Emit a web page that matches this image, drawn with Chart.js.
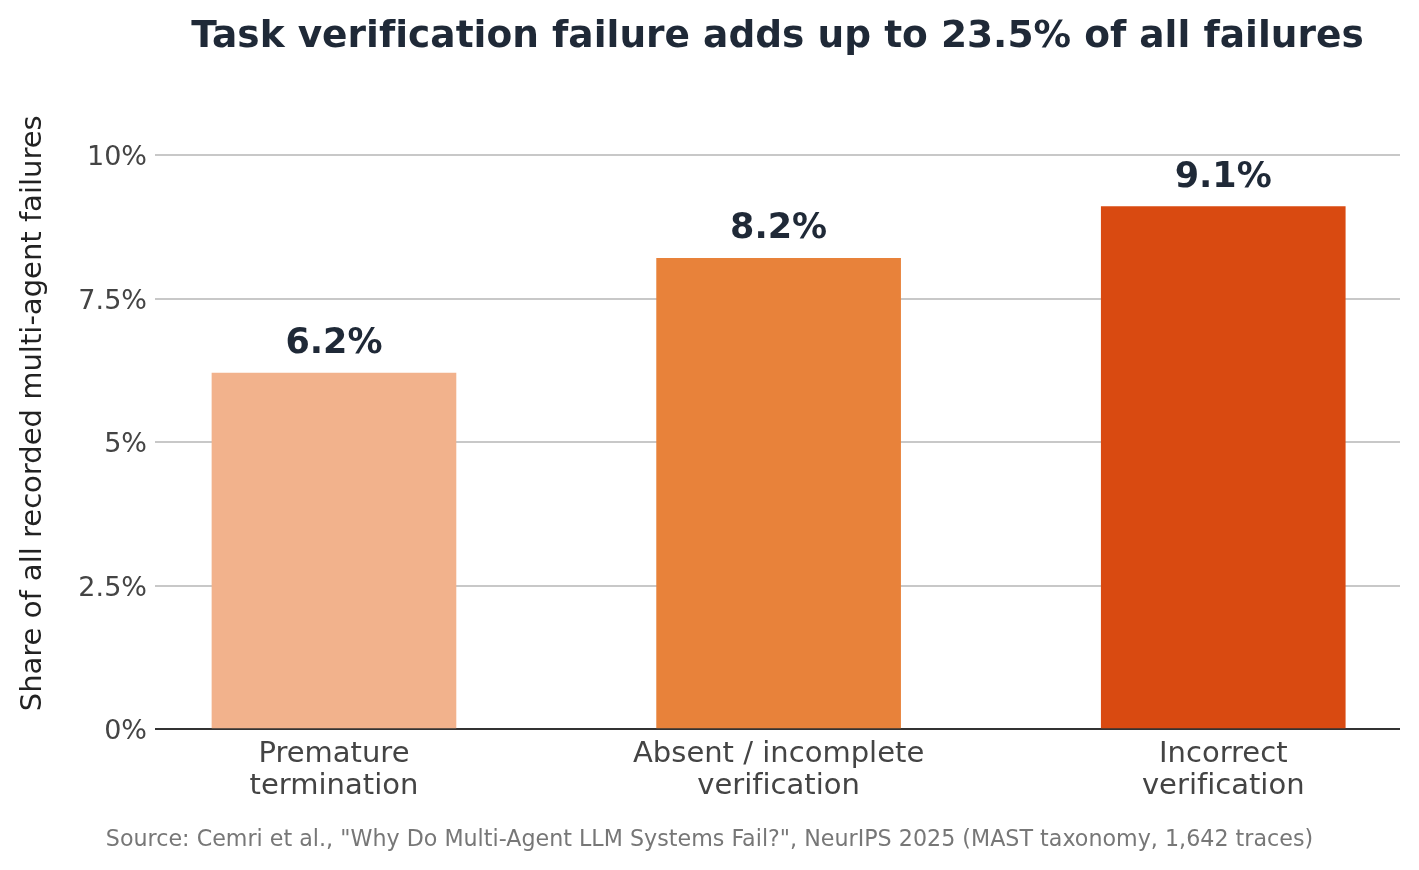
<!DOCTYPE html>
<html>
<head>
<meta charset="utf-8">
<script src="https://cdn.jsdelivr.net/npm/chart.js@4.4.1/dist/chart.umd.min.js"></script>
<style>
  html, body { margin: 0; padding: 0; background: #ffffff; }
  #wrap { width: 1419px; height: 870px; position: relative; }
  canvas { font-variant-ligatures: none; }
</style>
</head>
<body>
<div id="wrap"><canvas id="c" width="1419" height="870"></canvas></div>
<script>
// ---- Data ----
const categories = [["Premature", "termination"], ["Absent / incomplete", "verification"], ["Incorrect", "verification"]];
const values = [6.2, 8.2, 9.1];
const barColors = ["#F2B28C", "#E8823A", "#D94A11"];
const yTickValues = [0, 2.5, 5, 7.5, 10];
const yTickLabels = ["0%", "2.5%", "5%", "7.5%", "10%"];
const titleText = "Task verification failure adds up to 23.5% of all failures";
const yAxisTitle = "Share of all recorded multi-agent failures";
const sourceText = 'Source: Cemri et al., "Why Do Multi-Agent LLM Systems Fail?", NeurIPS 2025 (MAST taxonomy, 1,642 traces)';

const FONT = "'DejaVu Sans', sans-serif";

const noLig = {
  id: 'noLig',
  beforeDraw(chart) { try { chart.ctx.letterSpacing = '0.01px'; } catch (e) {} }
};

const overlay = {
  id: 'overlay',
  afterDatasetsDraw(chart) {
    const ctx = chart.ctx;
    const meta = chart.getDatasetMeta(0);
    ctx.save();
    try { ctx.letterSpacing = '0.01px'; } catch (e) {}
    ctx.fillStyle = '#1f2937';
    ctx.font = "bold 35px " + FONT;
    ctx.textAlign = 'center';
    ctx.textBaseline = 'alphabetic';
    meta.data.forEach((bar, i) => {
      ctx.fillText(values[i].toFixed(1) + '%', bar.x, bar.y - 20);
    });
    ctx.restore();
  },
  afterDraw(chart) {
    const ctx = chart.ctx;
    const ca = chart.chartArea;
    ctx.save();
    try { ctx.letterSpacing = '0.01px'; } catch (e) {}
    ctx.fillStyle = '#1f2937';
    ctx.font = "bold 37.5px " + FONT;
    ctx.textAlign = 'center';
    ctx.textBaseline = 'middle';
    ctx.fillText(titleText, (ca.left + ca.right) / 2, 37);
    ctx.fillStyle = '#777777';
    ctx.font = "22.2px " + FONT;
    ctx.fillText(sourceText, chart.width / 2, 840);
    ctx.restore();
  }
};

new Chart(document.getElementById('c'), {
  type: 'bar',
  data: {
    datasets: [{
      data: values.map((v, i) => ({ x: i, y: v })),
      backgroundColor: barColors,
      borderWidth: 0,
      barThickness: 244
    }]
  },
  options: {
    responsive: false,
    animation: false,
    devicePixelRatio: 1,
    layout: { padding: { left: 0, right: 19, top: 97.6, bottom: 0 } },
    plugins: {
      legend: { display: false },
      title: { display: false },
      tooltip: { enabled: false }
    },
    scales: {
      x: {
        type: 'linear',
        min: -0.4025,
        max: 2.3975,
        offset: false,
        afterBuildTicks(scale) {
          scale.ticks = categories.map((c, i) => ({ value: i }));
        },
        afterFit(scale) { scale.height = 141; },
        grid: { display: false, drawTicks: false },
        border: { display: false },
        ticks: {
          autoSkip: false,
          maxRotation: 0,
          padding: 10,
          color: '#444444',
          font: { family: FONT, size: 29, lineHeight: 1.1 },
          callback: (v) => categories[v]
        }
      },
      y: {
        min: 0,
        max: 11,
        afterBuildTicks(scale) {
          scale.ticks = yTickValues.map(v => ({ value: v }));
        },
        afterFit(scale) { scale.width = 155; },
        grid: {
          drawTicks: false,
          color: (c) => c.tick && c.tick.value === 0 ? '#333333' : '#c8c8c8',
          lineWidth: 2
        },
        border: { display: false },
        ticks: {
          padding: 8,
          labelOffset: 3,
          color: '#444444',
          font: { family: FONT, size: 27 },
          callback: (v) => yTickLabels[yTickValues.indexOf(v)]
        },
        title: {
          display: true,
          text: yAxisTitle,
          color: '#222222',
          font: { family: FONT, size: 29, lineHeight: 1.2 },
          padding: { top: 16, bottom: 0 }
        }
      }
    }
  },
  plugins: [noLig, overlay]
});
</script>
</body>
</html>
